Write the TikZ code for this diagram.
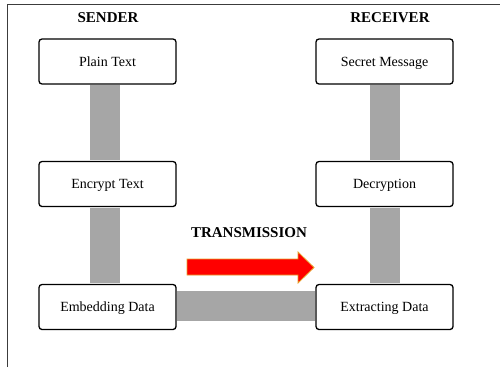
\documentclass[tikz,border=0pt]{standalone}
\usepackage{fontspec}
\setmainfont{Liberation Serif}
\definecolor{bargray}{RGB}{166,166,166}
\definecolor{frameline}{RGB}{60,60,60}
\definecolor{arrowedge}{RGB}{230,160,40}
\tikzset{
  stepbox/.style={draw=black, line width=1.3pt, rounded corners=3pt, fill=white,
    minimum width=137pt, minimum height=45pt, inner sep=0pt,
    text height=9.6pt, text depth=0pt,
    font=\fontsize{14}{16}\selectfont},
  headlabel/.style={font=\fontsize{15}{17}\selectfont\bfseries, inner sep=0pt},
  bar/.style={line width=30pt, draw=bargray},
  redarrow/.style={draw=arrowedge, fill=red, line width=0.8pt, line join=miter},
}
\begin{document}
\begin{tikzpicture}[x=1pt, y=-1pt]
\useasboundingbox (0,0) rectangle (500,367);
% frame
\draw[frameline, line width=1pt] (7,367) -- (7,4) -- (500,4);
% labels
\node[headlabel] (sender) at (108,18) {SENDER};
\node[headlabel] (receiver) at (390,18) {RECEIVER};
\node[headlabel] (trans) at (249,233) {TRANSMISSION};
% boxes
\node[stepbox] (plain) at (107.5,61.5) {Plain Text};
\node[stepbox] (enc) at (107.5,184) {Encrypt Text};
\node[stepbox] (emb) at (107.5,307) {Embedding Data};
\node[stepbox] (sec) at (384.5,61.5) {Secret Message};
\node[stepbox] (dec) at (384.5,184) {Decryption};
\node[stepbox] (ext) at (384.5,307) {Extracting Data};
% bars
\draw[bar] ([xshift=-2.75pt,yshift=-0.65pt]plain.south) -- ([xshift=-2.75pt,yshift=0.65pt]enc.north);
\draw[bar] ([xshift=-2.75pt,yshift=-0.65pt]enc.south) -- ([xshift=-2.75pt,yshift=0.65pt]emb.north);
\draw[bar] ([yshift=-0.65pt]sec.south) -- ([yshift=0.65pt]dec.north);
\draw[bar] ([yshift=-0.65pt]dec.south) -- ([yshift=0.65pt]ext.north);
\draw[bar] ([xshift=0.65pt,yshift=1pt]emb.east) -- ([xshift=-0.65pt,yshift=1pt]ext.west);
% red arrow
\draw[redarrow] (187,259) -- (298,259) -- (298,252) -- (314,267.5)
  -- (298,283) -- (298,275) -- (187,275) -- cycle;
\end{tikzpicture}
\end{document}
